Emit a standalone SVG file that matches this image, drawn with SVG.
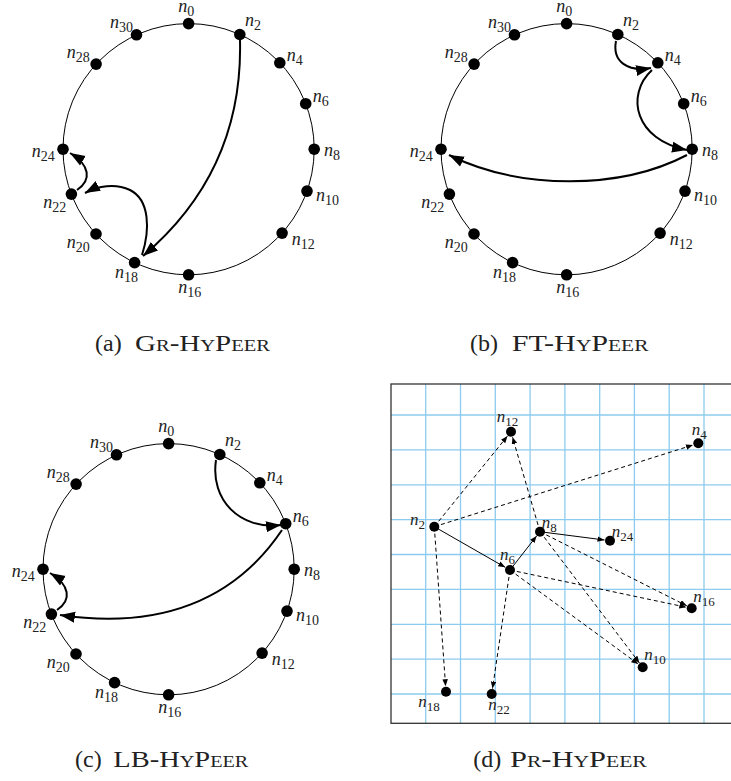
<svg xmlns="http://www.w3.org/2000/svg" width="731" height="781" viewBox="0 0 731 781">
<style>
.bg{fill:#fff}
.ring{fill:none;stroke:#000;stroke-width:1}
.dot{fill:#000}
.edge{fill:none;stroke:#000;stroke-width:2;marker-end:url(#big)}
.lbl{font-family:"Liberation Serif","Times New Roman",serif;font-size:18px;font-style:italic;fill:#222}
.lbl .sub{font-style:normal;font-size:14px}
.lbd{font-family:"Liberation Serif","Times New Roman",serif;font-size:17px;font-style:italic;fill:#222}
.lbd .sub{font-style:normal;font-size:13px}
.cap{font-family:"Liberation Serif","Times New Roman",serif;font-size:24px;fill:#222}
.sc{font-variant:small-caps}
.grid line{stroke:#8ccbef;stroke-width:1.3}
.frame{fill:none;stroke:#333;stroke-width:1.3}
.pe{fill:none;stroke:#000;stroke-width:1;marker-end:url(#small)}
.pd{stroke-dasharray:4 3}
</style>
<defs>
<marker id="big" markerUnits="userSpaceOnUse" markerWidth="16" markerHeight="12" refX="15" refY="6" orient="auto"><path d="M0,0.5 L15,6 L0,11.5 z" fill="#000"/></marker>
<marker id="small" markerUnits="userSpaceOnUse" markerWidth="8" markerHeight="6" refX="7" refY="2.75" orient="auto"><path d="M0,0 L7,2.75 L0,5.5 z" fill="#000"/></marker>
</defs>
<rect class="bg" x="0" y="0" width="731" height="781"/>

<!-- Panel (a) -->
<g id="panel-a">
  <circle class="ring" cx="188.6" cy="149.2" r="125.6"/>
  <g id="a-connectors">
    <path class="edge" d="M240,40 C 242,120 215,195 143,256"/>
    <path class="edge" d="M142,255 C 150,230 150,200 130,190 C 115,183 98,186 85,193"/>
    <path class="edge" d="M77,190 C 92,180 90,165 70,153"/>
  </g>
  <g id="a-n0"><circle class="dot" cx="188.6" cy="23.6" r="5.8"/><text class="lbl" x="178.3" y="11.5">n<tspan class="sub" dy="4">0</tspan></text></g>
  <g id="a-n2"><circle class="dot" cx="239.8" cy="34.5" r="5.8"/><text class="lbl" x="245" y="26">n<tspan class="sub" dy="4">2</tspan></text></g>
  <g id="a-n4"><circle class="dot" cx="279.8" cy="62.8" r="5.8"/><text class="lbl" x="286.7" y="60.7">n<tspan class="sub" dy="4">4</tspan></text></g>
  <g id="a-n6"><circle class="dot" cx="305.7" cy="103.7" r="5.8"/><text class="lbl" x="312.7" y="101.7">n<tspan class="sub" dy="4">6</tspan></text></g>
  <g id="a-n8"><circle class="dot" cx="314.2" cy="149.2" r="5.8"/><text class="lbl" x="324" y="156">n<tspan class="sub" dy="4">8</tspan></text></g>
  <g id="a-n10"><circle class="dot" cx="307" cy="191.1" r="5.8"/><text class="lbl" x="316" y="201">n<tspan class="sub" dy="4">10</tspan></text></g>
  <g id="a-n12"><circle class="dot" cx="282.1" cy="233.1" r="5.8"/><text class="lbl" x="291.7" y="245">n<tspan class="sub" dy="4">12</tspan></text></g>
  <g id="a-n16"><circle class="dot" cx="188.6" cy="274.8" r="5.8"/><text class="lbl" x="178.3" y="293.3">n<tspan class="sub" dy="4">16</tspan></text></g>
  <g id="a-n18"><circle class="dot" cx="134.6" cy="262.6" r="5.8"/><text class="lbl" x="115" y="278.3">n<tspan class="sub" dy="4">18</tspan></text></g>
  <g id="a-n20"><circle class="dot" cx="96" cy="234" r="5.8"/><text class="lbl" x="66.7" y="248.3">n<tspan class="sub" dy="4">20</tspan></text></g>
  <g id="a-n22"><circle class="dot" cx="71.4" cy="194.1" r="5.8"/><text class="lbl" x="43.3" y="208.3">n<tspan class="sub" dy="4">22</tspan></text></g>
  <g id="a-n24"><circle class="dot" cx="63" cy="149.2" r="5.8"/><text class="lbl" x="31.7" y="156.7">n<tspan class="sub" dy="4">24</tspan></text></g>
  <g id="a-n28"><circle class="dot" cx="96.1" cy="64.1" r="5.8"/><text class="lbl" x="66.7" y="58.3">n<tspan class="sub" dy="4">28</tspan></text></g>
  <g id="a-n30"><circle class="dot" cx="136.5" cy="34.8" r="5.8"/><text class="lbl" x="110" y="28.3">n<tspan class="sub" dy="4">30</tspan></text></g>
  <text class="cap" x="95" y="351">(a)</text>
  <text class="cap sc" x="135" y="351" textLength="135" lengthAdjust="spacingAndGlyphs">Gr-HyPeer</text>
</g>

<!-- Panel (b) -->
<g id="panel-b" transform="translate(378,0)">
  <circle class="ring" cx="188.6" cy="149.2" r="125.6"/>
  <g id="b-connectors">
    <path class="edge" d="M238,41 C 234,62 250,72 273,68"/>
    <path class="edge" d="M274,70 C 247,95 257,140 309,150"/>
    <path class="edge" d="M309,155 C 242,190 142,190 71,155"/>
  </g>
  <g id="b-n0"><circle class="dot" cx="188.6" cy="23.6" r="5.8"/><text class="lbl" x="178.3" y="11.5">n<tspan class="sub" dy="4">0</tspan></text></g>
  <g id="b-n2"><circle class="dot" cx="239.8" cy="34.5" r="5.8"/><text class="lbl" x="245" y="26">n<tspan class="sub" dy="4">2</tspan></text></g>
  <g id="b-n4"><circle class="dot" cx="279.8" cy="62.8" r="5.8"/><text class="lbl" x="286.7" y="60.7">n<tspan class="sub" dy="4">4</tspan></text></g>
  <g id="b-n6"><circle class="dot" cx="305.7" cy="103.7" r="5.8"/><text class="lbl" x="312.7" y="101.7">n<tspan class="sub" dy="4">6</tspan></text></g>
  <g id="b-n8"><circle class="dot" cx="314.2" cy="149.2" r="5.8"/><text class="lbl" x="324" y="156">n<tspan class="sub" dy="4">8</tspan></text></g>
  <g id="b-n10"><circle class="dot" cx="307" cy="191.1" r="5.8"/><text class="lbl" x="316" y="201">n<tspan class="sub" dy="4">10</tspan></text></g>
  <g id="b-n12"><circle class="dot" cx="282.1" cy="233.1" r="5.8"/><text class="lbl" x="291.7" y="245">n<tspan class="sub" dy="4">12</tspan></text></g>
  <g id="b-n16"><circle class="dot" cx="188.6" cy="274.8" r="5.8"/><text class="lbl" x="178.3" y="293.3">n<tspan class="sub" dy="4">16</tspan></text></g>
  <g id="b-n18"><circle class="dot" cx="134.6" cy="262.6" r="5.8"/><text class="lbl" x="115" y="278.3">n<tspan class="sub" dy="4">18</tspan></text></g>
  <g id="b-n20"><circle class="dot" cx="96" cy="234" r="5.8"/><text class="lbl" x="66.7" y="248.3">n<tspan class="sub" dy="4">20</tspan></text></g>
  <g id="b-n22"><circle class="dot" cx="71.4" cy="194.1" r="5.8"/><text class="lbl" x="43.3" y="208.3">n<tspan class="sub" dy="4">22</tspan></text></g>
  <g id="b-n24"><circle class="dot" cx="63" cy="149.2" r="5.8"/><text class="lbl" x="31.7" y="156.7">n<tspan class="sub" dy="4">24</tspan></text></g>
  <g id="b-n28"><circle class="dot" cx="96.1" cy="64.1" r="5.8"/><text class="lbl" x="66.7" y="58.3">n<tspan class="sub" dy="4">28</tspan></text></g>
  <g id="b-n30"><circle class="dot" cx="136.5" cy="34.8" r="5.8"/><text class="lbl" x="110" y="28.3">n<tspan class="sub" dy="4">30</tspan></text></g>
  <text class="cap" x="92" y="351">(b)</text>
  <text class="cap sc" x="133.7" y="351" textLength="136.7" lengthAdjust="spacingAndGlyphs">FT-HyPeer</text>
</g>

<!-- Panel (c) -->
<g id="panel-c" transform="translate(-20,420)">
  <circle class="ring" cx="188.6" cy="149.2" r="125.6"/>
  <g id="c-connectors">
    <path class="edge" d="M236,40 C 230,80 260,110 301,105"/>
    <path class="edge" d="M302,110 C 255,180 180,210 80,195"/>
    <path class="edge" d="M77,190 C 92,180 90,165 70,153"/>
  </g>
  <g id="c-n0"><circle class="dot" cx="188.6" cy="23.6" r="5.8"/><text class="lbl" x="178.3" y="11.5">n<tspan class="sub" dy="4">0</tspan></text></g>
  <g id="c-n2"><circle class="dot" cx="239.8" cy="34.5" r="5.8"/><text class="lbl" x="245" y="26">n<tspan class="sub" dy="4">2</tspan></text></g>
  <g id="c-n4"><circle class="dot" cx="279.8" cy="62.8" r="5.8"/><text class="lbl" x="286.7" y="60.7">n<tspan class="sub" dy="4">4</tspan></text></g>
  <g id="c-n6"><circle class="dot" cx="305.7" cy="103.7" r="5.8"/><text class="lbl" x="312.7" y="101.7">n<tspan class="sub" dy="4">6</tspan></text></g>
  <g id="c-n8"><circle class="dot" cx="314.2" cy="149.2" r="5.8"/><text class="lbl" x="324" y="156">n<tspan class="sub" dy="4">8</tspan></text></g>
  <g id="c-n10"><circle class="dot" cx="307" cy="191.1" r="5.8"/><text class="lbl" x="316" y="201">n<tspan class="sub" dy="4">10</tspan></text></g>
  <g id="c-n12"><circle class="dot" cx="282.1" cy="233.1" r="5.8"/><text class="lbl" x="291.7" y="245">n<tspan class="sub" dy="4">12</tspan></text></g>
  <g id="c-n16"><circle class="dot" cx="188.6" cy="274.8" r="5.8"/><text class="lbl" x="178.3" y="293.3">n<tspan class="sub" dy="4">16</tspan></text></g>
  <g id="c-n18"><circle class="dot" cx="134.6" cy="262.6" r="5.8"/><text class="lbl" x="115" y="278.3">n<tspan class="sub" dy="4">18</tspan></text></g>
  <g id="c-n20"><circle class="dot" cx="96" cy="234" r="5.8"/><text class="lbl" x="66.7" y="248.3">n<tspan class="sub" dy="4">20</tspan></text></g>
  <g id="c-n22"><circle class="dot" cx="71.4" cy="194.1" r="5.8"/><text class="lbl" x="43.3" y="208.3">n<tspan class="sub" dy="4">22</tspan></text></g>
  <g id="c-n24"><circle class="dot" cx="63" cy="149.2" r="5.8"/><text class="lbl" x="31.7" y="156.7">n<tspan class="sub" dy="4">24</tspan></text></g>
  <g id="c-n28"><circle class="dot" cx="96.1" cy="64.1" r="5.8"/><text class="lbl" x="66.7" y="58.3">n<tspan class="sub" dy="4">28</tspan></text></g>
  <g id="c-n30"><circle class="dot" cx="136.5" cy="34.8" r="5.8"/><text class="lbl" x="110" y="28.3">n<tspan class="sub" dy="4">30</tspan></text></g>
  <text class="cap" x="95" y="347">(c)</text>
  <text class="cap sc" x="133.3" y="347" textLength="135" lengthAdjust="spacingAndGlyphs">LB-HyPeer</text>
</g>

<!-- Panel (d) -->
<g id="panel-d">
  <g class="grid">
    <line x1="425.7" y1="384" x2="425.7" y2="723.3"/>
    <line x1="460.5" y1="384" x2="460.5" y2="723.3"/>
    <line x1="495.3" y1="384" x2="495.3" y2="723.3"/>
    <line x1="530.1" y1="384" x2="530.1" y2="723.3"/>
    <line x1="564.9" y1="384" x2="564.9" y2="723.3"/>
    <line x1="599.7" y1="384" x2="599.7" y2="723.3"/>
    <line x1="634.4" y1="384" x2="634.4" y2="723.3"/>
    <line x1="669.2" y1="384" x2="669.2" y2="723.3"/>
    <line x1="704" y1="384" x2="704" y2="723.3"/>
    <line x1="391" y1="415" x2="731" y2="415"/>
    <line x1="391" y1="449.9" x2="731" y2="449.9"/>
    <line x1="391" y1="484.8" x2="731" y2="484.8"/>
    <line x1="391" y1="519.6" x2="731" y2="519.6"/>
    <line x1="391" y1="554.5" x2="731" y2="554.5"/>
    <line x1="391" y1="589.4" x2="731" y2="589.4"/>
    <line x1="391" y1="624.3" x2="731" y2="624.3"/>
    <line x1="391" y1="659.2" x2="731" y2="659.2"/>
    <line x1="391" y1="694" x2="731" y2="694"/>
  </g>
  <rect class="frame" x="391" y="384" width="346" height="339.3"/>
  <g id="d-connectors">
    <path class="pe" d="M434.3,526.7 L505.2,567.3"/>
    <path class="pe" d="M510,570 L536.6,536"/>
    <path class="pe" d="M540,531.7 L604.5,540"/>
    <path class="pe pd" d="M434.3,526.7 L507.5,436"/>
    <path class="pe pd" d="M434.3,526.7 L693,445"/>
    <path class="pe pd" d="M434.3,526.7 L445.6,686.2"/>
    <path class="pe pd" d="M540,531.7 L512.5,437"/>
    <path class="pe pd" d="M540,531.7 L686.8,605.8"/>
    <path class="pe pd" d="M540,531.7 L639.4,662.9"/>
    <path class="pe pd" d="M510,570 L686.3,607.2"/>
    <path class="pe pd" d="M510,570 L638.3,664.1"/>
    <path class="pe pd" d="M510,570 L492.5,688.6"/>
  </g>
  <g id="d-n12"><circle class="dot" cx="511" cy="431.7" r="5"/><text class="lbd" x="496.7" y="421.7">n<tspan class="sub" dy="4">12</tspan></text></g>
  <g id="d-n4"><circle class="dot" cx="698.3" cy="443.3" r="5"/><text class="lbd" x="691.7" y="435">n<tspan class="sub" dy="4">4</tspan></text></g>
  <g id="d-n2"><circle class="dot" cx="434.3" cy="526.7" r="5"/><text class="lbd" x="410" y="525">n<tspan class="sub" dy="4">2</tspan></text></g>
  <g id="d-n8"><circle class="dot" cx="540" cy="531.7" r="5"/><text class="lbd" x="541.7" y="528.3">n<tspan class="sub" dy="4">8</tspan></text></g>
  <g id="d-n24"><circle class="dot" cx="610" cy="540.7" r="5"/><text class="lbd" x="611.7" y="536.7">n<tspan class="sub" dy="4">24</tspan></text></g>
  <g id="d-n6"><circle class="dot" cx="510" cy="570" r="5"/><text class="lbd" x="500" y="560">n<tspan class="sub" dy="4">6</tspan></text></g>
  <g id="d-n16"><circle class="dot" cx="691.7" cy="608.3" r="5"/><text class="lbd" x="693.3" y="601.7">n<tspan class="sub" dy="4">16</tspan></text></g>
  <g id="d-n10"><circle class="dot" cx="642.7" cy="667.3" r="5"/><text class="lbd" x="644.3" y="660">n<tspan class="sub" dy="4">10</tspan></text></g>
  <g id="d-n18"><circle class="dot" cx="446" cy="691.7" r="5"/><text class="lbd" x="418.3" y="706.7">n<tspan class="sub" dy="4">18</tspan></text></g>
  <g id="d-n22"><circle class="dot" cx="491.7" cy="694" r="5"/><text class="lbd" x="488.3" y="710">n<tspan class="sub" dy="4">22</tspan></text></g>
  <text class="cap" x="473.3" y="767">(d)</text>
  <text class="cap sc" x="510" y="767" textLength="136.7" lengthAdjust="spacingAndGlyphs">Pr-HyPeer</text>
</g>
</svg>
